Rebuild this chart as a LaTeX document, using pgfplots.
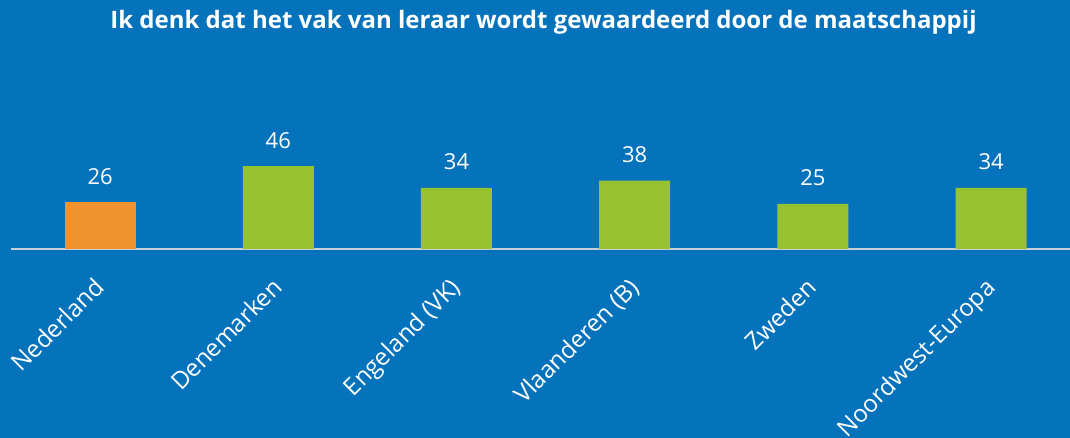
\documentclass[border=0pt]{standalone}
\usepackage{pgfplots}
\pgfplotsset{compat=1.18}
\usepackage{fontspec}
\setmainfont{Open Sans}
\definecolor{bg}{HTML}{0573BC}
\definecolor{oranje}{HTML}{F09230}
\definecolor{groen}{HTML}{97C232}
\definecolor{lijn}{HTML}{C8CDD6}
\begin{document}
\begin{tikzpicture}[x=1bp,y=1bp]
\useasboundingbox (0,0) rectangle (1070,438);
\fill[bg] (0,0) rectangle (1070,438);
\node[font=\fontsize{24bp}{28bp}\selectfont\bfseries, text=white] at (543.5,416) {Ik denk dat het vak van leraar wordt gewaardeerd door de maatschappij};
\begin{axis}[
  at={(11bp,189bp)}, anchor=south west,
  scale only axis, width=1059bp, height=108bp,
  xmin=-0.5, xmax=5.443, ymin=0, ymax=60,
  axis x line=bottom, axis y line=none,
  x axis line style={draw=lijn, line width=2bp, -},
  ytick=\empty,
  xtick={0,1,2,3,4,5},
  xticklabels={Nederland,Denemarken,Engeland (VK),Vlaanderen (B),Zweden,Noordwest-Europa},
  major tick length=0pt,
  xticklabel style={xshift=-7.5bp, yshift=-27bp, rotate=45, anchor=north east, inner sep=0pt, text=white,
     font=\fontsize{24bp}{28bp}\selectfont},
  /pgf/number format/assume math mode=true,
  ybar, bar width=71bp,
  nodes near coords,
  nodes near coords style={text=white, font=\fontsize{22bp}{26bp}\selectfont, anchor=base, inner sep=0pt, yshift=18bp},
  clip=false,
]
\addplot[fill=oranje, draw=none, bar shift=0pt] coordinates {(0,26)};
\addplot[fill=groen, draw=none, bar shift=0pt] coordinates {(1,46) (2,34) (3,38) (4,25) (5,34)};
\end{axis}
\end{tikzpicture}
\end{document}
